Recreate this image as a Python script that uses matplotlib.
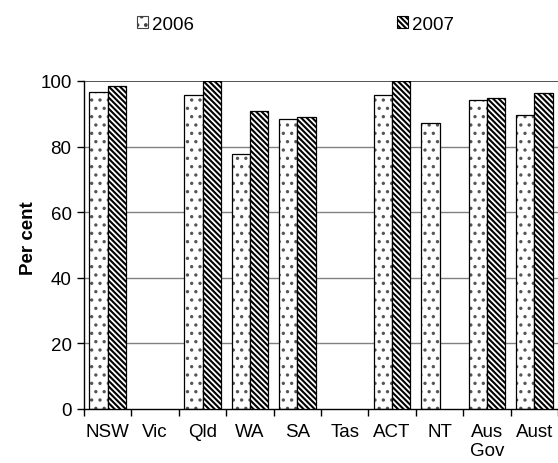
import numpy as np
import matplotlib
matplotlib.use("Agg")
import matplotlib.pyplot as plt
from matplotlib.patches import Patch

plt.rcParams['font.family'] = ['Liberation Sans', 'DejaVu Sans']

categories = ["NSW", "Vic", "Qld", "WA", "SA", "Tas", "ACT", "NT", "Aus\nGov", "Aust"]
values_2006 = [96.6, np.nan, 95.8, 77.8, 88.3, np.nan, 95.8, 87.1, 94.1, 89.6]
values_2007 = [98.4, np.nan, 100.0, 90.9, 88.9, np.nan, 100.0, np.nan, 94.9, 96.3]
series_labels = ["2006", "2007"]
yticks = [0, 20, 40, 60, 80, 100]

FS = 13.5
DOT_HATCH = '..'
STRIPE_HATCH = '\\' * 6

fig = plt.figure(figsize=(5.58, 4.64), dpi=100)
ax = fig.add_axes([84/558, 1-410/464, 1-84/558, (410-82)/464])

x = np.arange(len(categories))
w = 0.385

# 2006: dotted fill (grey dots) then black outline
plt.rcParams['hatch.linewidth'] = 1.2
ax.bar(x - w/2, values_2006, w, color='white', edgecolor='#555555', hatch=DOT_HATCH, linewidth=0, zorder=2)
ax.bar(x - w/2, values_2006, w, fill=False, edgecolor='black', linewidth=0.9, zorder=3)
h1 = Patch(facecolor='white', edgecolor='#444444', hatch=DOT_HATCH, linewidth=0.8, label=series_labels[0])
# 2007: dense diagonal stripes
plt.rcParams['hatch.linewidth'] = 1.5
ax.bar(x + w/2, values_2007, w, color='white', edgecolor='black', hatch=STRIPE_HATCH, linewidth=0.9, zorder=3)
h2 = Patch(facecolor='white', edgecolor='black', hatch=STRIPE_HATCH, linewidth=0.8, label=series_labels[1])

ax.set_xlim(-0.5, len(categories) - 0.5)
ax.set_ylim(0, 100)
ax.set_yticks(yticks)
ax.set_yticklabels([str(v) for v in yticks], fontsize=FS)
for v in yticks[1:]:
    ax.axhline(v, color='#333333' if v == 100 else '#808080', linewidth=1.2 if v == 100 else 1.0, zorder=1)

ax.set_xticks(x)
ax.set_xticklabels(categories, fontsize=FS, va='top')
ax.tick_params(axis='x', which='major', length=0, pad=10)
ax.set_xticks(list(np.arange(-0.5, len(categories), 1.0)), minor=True)
ax.tick_params(axis='x', which='minor', length=5, width=1, color='black')
ax.tick_params(axis='y', length=5, width=1, pad=4)

for s in ['top', 'right']:
    ax.spines[s].set_visible(False)
ax.spines['left'].set_linewidth(1.0)
ax.spines['bottom'].set_linewidth(1.0)

ax.set_ylabel("Per cent", fontsize=FS, fontweight='bold')
ax.yaxis.set_label_coords(-(84-37)/474, 0.524)

for h, xp in [(h1, 137/558), (h2, 397/558)]:
    fig.legend(handles=[h], loc='center left', bbox_to_anchor=(xp, 1-25/464), frameon=False,
               borderpad=0, borderaxespad=0, handlelength=0.6, handleheight=0.6,
               handletextpad=0.2, fontsize=FS)

fig.savefig("out.png", dpi=100)
